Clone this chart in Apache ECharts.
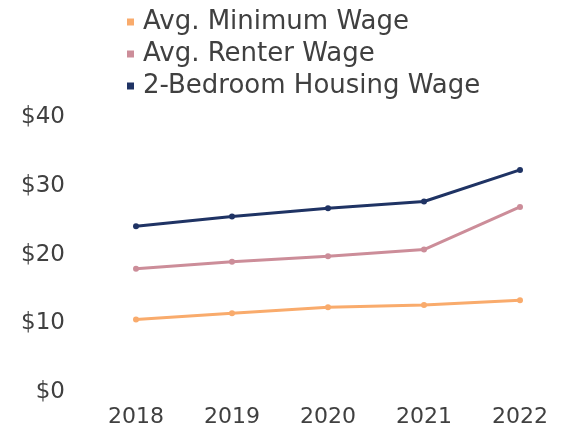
<!DOCTYPE html>
<html>
<head>
<meta charset="utf-8">
<script src="https://cdn.jsdelivr.net/npm/echarts@6/dist/echarts.min.js"></script>
<style>
  html, body { margin: 0; padding: 0; background: #ffffff; }
  #chart { width: 563px; height: 433px; }
</style>
</head>
<body>
<div id="chart"></div>
<script>
// Hourly wages by year (USD)
const years = ['2018', '2019', '2020', '2021', '2022'];
const minimumWage = [10.2, 11.1, 12.0, 12.3, 13.0];
const renterWage = [17.6, 18.6, 19.4, 20.4, 26.6];
const housingWage = [23.8, 25.2, 26.4, 27.4, 32.0];

const seriesNames = ['Avg. Minimum Wage', 'Avg. Renter Wage', '2-Bedroom Housing Wage'];
const seriesColors = ['#f9ab6c', '#cc8d99', '#1f3364'];
const seriesData = [minimumWage, renterWage, housingWage];

const FONT = 'DejaVu Sans';
const TEXT = '#404040';

const chart = echarts.init(document.getElementById('chart'));
chart.setOption({
  animation: false,
  textStyle: { fontFamily: FONT },
  legend: {
    orient: 'vertical',
    left: 122,
    top: 4,
    icon: 'rect',
    itemWidth: 7,
    itemHeight: 7,
    itemGap: 6,
    textStyle: { fontFamily: FONT, fontSize: 26, color: TEXT, padding: [0, 0, 0, 4] },
    data: seriesNames
  },
  grid: { left: 136, right: 43, top: 115, bottom: 43.5 },
  xAxis: {
    type: 'category',
    data: years,
    boundaryGap: false,
    axisLine: { show: false },
    axisTick: { show: false },
    axisLabel: { fontFamily: FONT, fontSize: 22, color: TEXT, margin: 17 }
  },
  yAxis: {
    type: 'value',
    min: 0,
    max: 40,
    interval: 10,
    splitLine: { show: false },
    axisLine: { show: false },
    axisTick: { show: false },
    axisLabel: {
      fontFamily: FONT, fontSize: 23, color: TEXT, margin: 71,
      verticalAlign: 'top',
      padding: [-9, 0, 0, 0],
      formatter: v => '$' + v
    }
  },
  series: seriesNames.map((name, i) => ({
    name: name,
    type: 'line',
    data: seriesData[i],
    color: seriesColors[i],
    symbol: 'circle',
    symbolSize: 6,
    lineStyle: { width: 3, color: seriesColors[i] },
    itemStyle: { color: seriesColors[i] }
  }))
});
</script>
</body>
</html>
